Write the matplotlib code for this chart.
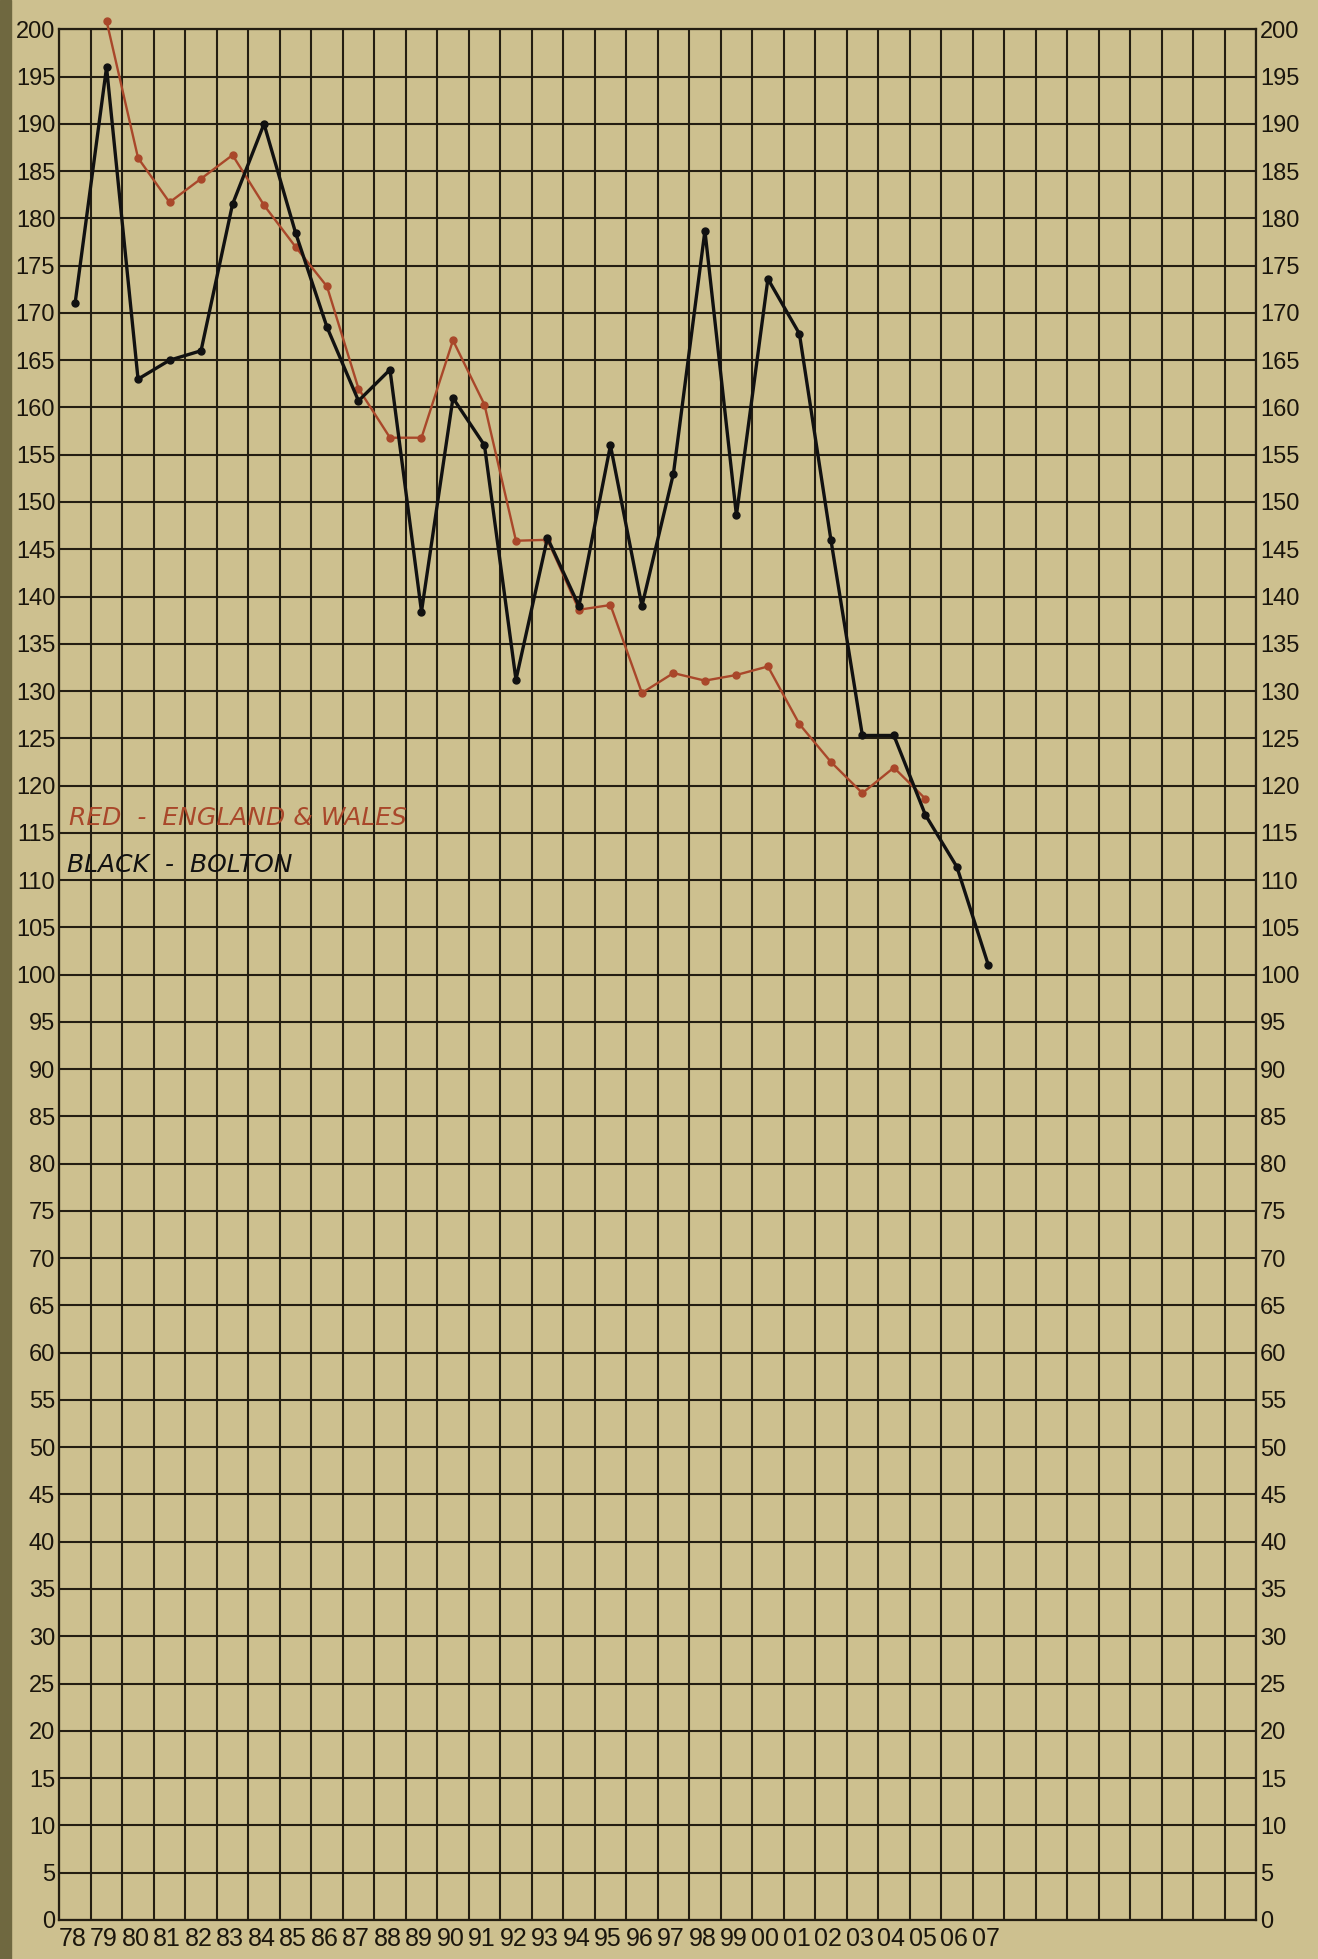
import numpy as np
import matplotlib
matplotlib.use("Agg")
import matplotlib.pyplot as plt
from matplotlib.patches import Rectangle

# years 1878-1907, one column each on the graph paper
years = ["78", "79", "80", "81", "82", "83", "84", "85", "86", "87",
         "88", "89", "90", "91", "92", "93", "94", "95", "96", "97",
         "98", "99", "00", "01", "02", "03", "04", "05", "06", "07"]

# black - Bolton, 1878-1907
bolton = [171, 196, 163, 165, 166, 181.5, 190, 178.5, 168.5, 160.7,
          164, 138.4, 161, 156, 131.2, 146.2, 139, 156, 139, 153,
          178.7, 148.6, 173.6, 167.8, 146, 125.3, 125.3, 116.9, 111.4, 101]

# red - England & Wales, 1879-1905
eng_wales = [200.9, 186.4, 181.7, 184.2, 186.7, 181.4, 177, 172.8, 162, 156.8,
             156.8, 167.1, 160.3, 145.9, 146, 138.6, 139.1, 129.8, 131.9, 131.1,
             131.7, 132.6, 126.5, 122.5, 119.2, 121.9, 118.6]

paper = "#cdc08f"
ink = "#241e12"
red = "#a9472a"
n_cols = 38

fig = plt.figure(figsize=(13.18, 19.59), dpi=100, facecolor=paper)
ax = fig.add_axes([0.045, 0.02, 0.908, 0.965])
ax.set_facecolor(paper)

# dark strip at the binding edge
fig.patches.append(Rectangle((0, 0), 0.008, 1, transform=fig.transFigure,
                             color="#6f6840", zorder=0))

x_b = np.arange(len(bolton)) + 0.5
x_e = np.arange(1, 1 + len(eng_wales)) + 0.5

ax.plot(x_e, eng_wales, color=red, lw=1.7, marker="o", ms=5,
        zorder=4, clip_on=False)
ax.plot(x_b, bolton, color="#111111", lw=2.4, marker="o", ms=5,
        zorder=5, clip_on=False)

ax.set_xlim(0, n_cols)
ax.set_ylim(0, 200)

ax.set_xticks(np.arange(0, n_cols + 1), minor=True)
ax.set_xticks(np.arange(len(years)) + 0.42)
ax.set_xticklabels(years, fontsize=18, family=["Liberation Sans", "DejaVu Sans"])
ax.set_yticks(np.arange(0, 201, 5))
ax.set_yticklabels([str(v) for v in range(0, 201, 5)], fontsize=17,
                   family=["Liberation Sans", "DejaVu Sans"])

ax.tick_params(axis="x", which="both", length=0, pad=5, colors="#1a150c")
ax.tick_params(axis="y", length=0, pad=3, labelright=True, colors="#1a150c")

ax.grid(which="minor", axis="x", color=ink, lw=1.5)
ax.grid(which="major", axis="y", color=ink, lw=1.5)
ax.set_axisbelow(True)
for s in ax.spines.values():
    s.set_color(ink)
    s.set_linewidth(1.6)

ax.text(0.3, 115.3, "RED  -  ENGLAND & WALES", color=red, fontsize=18,
        style="italic", ha="left", va="bottom", family="DejaVu Sans")
ax.text(0.25, 110.3, "BLACK  -  BOLTON", color="#111111", fontsize=18,
        style="italic", ha="left", va="bottom", family="DejaVu Sans")

fig.savefig("out.png", dpi=100, facecolor=paper)
